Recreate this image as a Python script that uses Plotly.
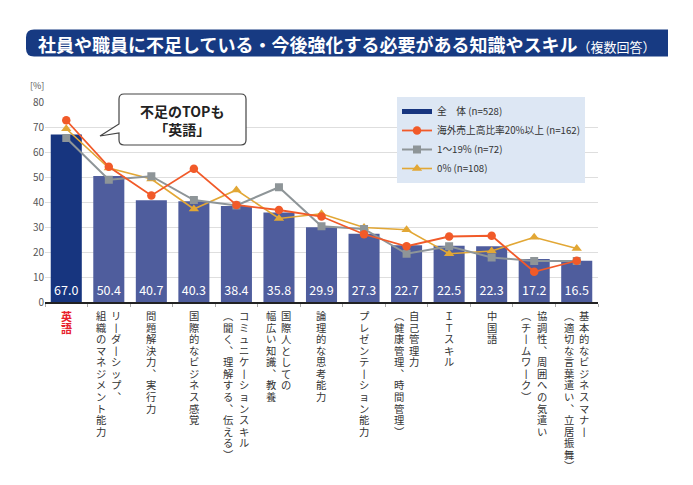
import plotly.graph_objects as go

# ---------------- data ----------------
categories = ["英語", "リーダーシップ、組織のマネジメント能力", "問題解決力、実行力", "国際的なビジネス感覚",
              "コミュニケーションスキル（聞く、理解する、伝える）", "国際人としての幅広い知識、教養",
              "論理的な思考能力", "プレゼンテーション能力", "自己管理力（健康管理、時間管理）", "ITスキル",
              "中国語", "協調性、周囲への気遣い（チームワーク）", "基本的なビジネスマナー（適切な言葉遣い、立居振舞）"]
label_lines = [["英語"], ["リーダーシップ、", "組織のマネジメント能力"], ["問題解決力、実行力"], ["国際的なビジネス感覚"],
               ["コミュニケーションスキル", "（聞く、理解する、伝える）"], ["国際人としての", "幅広い知識、教養"],
               ["論理的な思考能力"], ["プレゼンテーション能力"], ["自己管理力", "（健康管理、時間管理）"], ["ＩＴスキル"],
               ["中国語"], ["協調性、周囲への気遣い", "（チームワーク）"], ["基本的なビジネスマナー", "（適切な言葉遣い、立居振舞）"]]
total_all = [67.0, 50.4, 40.7, 40.3, 38.4, 35.8, 29.9, 27.3, 22.7, 22.5, 22.3, 17.2, 16.5]
over20 = [72.7, 54.1, 42.6, 53.3, 38.8, 36.8, 34.2, 27.1, 22.3, 26.2, 26.5, 12.1, 16.5]
from1to19 = [65.6, 48.9, 50.3, 40.8, 38.6, 45.9, 30.3, 29.2, 19.3, 22.3, 17.8, 16.4, 16.4]
zero = [69.3, 53.6, 49.2, 37.2, 44.8, 33.4, 35.3, 29.8, 28.9, 19.3, 20.4, 25.9, 21.4]
names = ["全　体 (n=528)", "海外売上高比率20%以上 (n=162)", "1～19% (n=72)", "0% (n=108)"]
y_ticks = [0, 10, 20, 30, 40, 50, 60, 70, 80]

# ---------------- styles ----------------
FONT = "Noto Sans CJK JP"
NAVY = "#17357f"
BAR = "#4f5d9d"
ORANGE = "#f15a29"
GRAY = "#8e9598"
GOLD = "#e2a735"
W, H = 693, 485
L, R, T, B = 45, 598, 102, 302


def px2x(px):
    return (px - L) / (R - L)


def py2y(py):
    return (B - py) / (B - T)


fig = go.Figure()
bar_colors = [NAVY] + [BAR] * (len(categories) - 1)
fig.add_trace(go.Bar(x=categories, y=total_all, marker=dict(color=bar_colors, line=dict(width=0)),
                     text=[f"{v:.1f}" for v in total_all], textposition="inside", insidetextanchor="start",
                     textangle=0, constraintext="none",
                     textfont=dict(color="white", size=12.5, family=FONT), showlegend=False,
                     hoverinfo="skip"))
fig.add_trace(go.Scatter(x=categories, y=zero, mode="lines+markers", name=names[3], legendrank=4,
                         line=dict(color=GOLD, width=1.6), marker=dict(symbol="triangle-up", size=9, color=GOLD)))
fig.add_trace(go.Scatter(x=categories, y=from1to19, mode="lines+markers", name=names[2], legendrank=3,
                         line=dict(color=GRAY, width=2), marker=dict(symbol="square", size=8, color=GRAY)))
fig.add_trace(go.Scatter(x=categories, y=over20, mode="lines+markers", name=names[1], legendrank=2,
                         line=dict(color=ORANGE, width=1.8), marker=dict(symbol="circle", size=8.5, color=ORANGE)))
# legend key for bars (thick line, as in reference)
fig.add_trace(go.Scatter(x=[None], y=[None], mode="lines", name=names[0], legendrank=1,
                         line=dict(color=NAVY, width=5)))

shapes = []
annotations = []

# title bar (rounded left corners)
x0, x1 = px2x(26), px2x(668)
y0, y1 = py2y(56.5), py2y(29.5)
rx, ry = 8 / (R - L), 8 / (B - T)
shapes.append(dict(type="path", xref="paper", yref="paper", fillcolor="#173a82", line=dict(width=0),
                   path=(f"M{x0 + rx},{y1} L{x1},{y1} L{x1},{y0} L{x0 + rx},{y0} "
                         f"Q{x0},{y0} {x0},{y0 + ry} L{x0},{y1 - ry} Q{x0},{y1} {x0 + rx},{y1} Z")))
annotations.append(dict(xref="paper", yref="paper", x=px2x(36), y=py2y(43.5), xanchor="left", yanchor="middle",
                        showarrow=False,
                        text="<b>社員や職員に不足している・今後強化する必要がある知識やスキル</b>"
                             "<span style='font-size:13px'>（複数回答）</span>",
                        font=dict(family=FONT, size=18, color="white")))

# callout
cx0, cx1 = px2x(119), px2x(246)
cy0, cy1 = py2y(145), py2y(94)
r2x, r2y = 5 / (R - L), 5 / (B - T)
tipx, tipy = px2x(100), py2y(136)
b1, b2 = py2y(124), py2y(133)
shapes.append(dict(type="path", xref="paper", yref="paper", fillcolor="white",
                   line=dict(color="#444444", width=1.2),
                   path=(f"M{cx0 + r2x},{cy1} L{cx1 - r2x},{cy1} Q{cx1},{cy1} {cx1},{cy1 - r2y} "
                         f"L{cx1},{cy0 + r2y} Q{cx1},{cy0} {cx1 - r2x},{cy0} L{cx0 + r2x},{cy0} "
                         f"Q{cx0},{cy0} {cx0},{cy0 + r2y} L{cx0},{b2} L{tipx},{tipy} L{cx0},{b1} "
                         f"L{cx0},{cy1 - r2y} Q{cx0},{cy1} {cx0 + r2x},{cy1} Z")))
annotations.append(dict(xref="paper", yref="paper", x=px2x(182), y=py2y(120), xanchor="center",
                        yanchor="middle", showarrow=False,
                        text="<b>不足のTOPも<br>「英語」</b>", font=dict(family=FONT, size=14, color="#222222")))

# [%]
annotations.append(dict(xref="paper", yref="paper", x=px2x(28), y=py2y(86), xanchor="left", yanchor="middle",
                        showarrow=False, text="[%]", font=dict(family=FONT, size=9, color="#555555")))

# vertical (tategaki) category labels, one text column per line
VERT = {"ー": "丨", "（": "︵", "）": "︶", "、": "︑"}
for cat, lines in zip(categories, label_lines):
    n = len(lines)
    red = cat == categories[0]
    for li, line in enumerate(lines):
        xoff = 0 if n == 1 else (7.5 if li == 0 else -7.5)
        chars = [VERT.get(ch, ch) for ch in line]
        if red:
            col = "<br>".join(f"<b><span style='font-size:11px'>{ch}</span></b>" for ch in chars)
        else:
            col = "<br>".join(f"<span style='font-size:10.3px'>{ch}</span>" for ch in chars)
        annotations.append(dict(xref="x", yref="paper", x=cat, y=0, xshift=xoff, yshift=-4,
                                xanchor="center", yanchor="top", showarrow=False, text=col,
                                font=dict(family=FONT, size=8.9, color="#e8202a" if red else "#333333")))

fig.update_layout(
    width=W, height=H,
    margin=dict(l=L, r=W - R, t=T, b=H - B, pad=0),
    paper_bgcolor="white", plot_bgcolor="white",
    bargap=0.27,
    font=dict(family=FONT, size=10, color="#333333"),
    shapes=shapes, annotations=annotations,
    legend=dict(x=px2x(397), y=py2y(97), xanchor="left", yanchor="top", bgcolor="#dde7f4",
                font=dict(family=FONT, size=9.7, color="#333333"), itemwidth=30, tracegroupgap=0,
                borderwidth=0),
    xaxis=dict(range=[-0.5, len(categories) - 0.5], showticklabels=False, showgrid=False, ticks="outside",
               tickson="boundaries", ticklen=3, tickcolor="#aaaaaa", showline=True, linecolor="#222222",
               linewidth=1.5, fixedrange=True),
    yaxis=dict(range=[0, 80], tickvals=y_ticks, showgrid=True, gridcolor="#dedede", gridwidth=1,
               zeroline=False, showline=False, ticks="", tickfont=dict(family=FONT, size=10, color="#555555"),
               fixedrange=True),
    showlegend=True,
)

fig.write_html("out.html", config={"displayModeBar": False},
               post_script="document.body.style.margin='0px';")
